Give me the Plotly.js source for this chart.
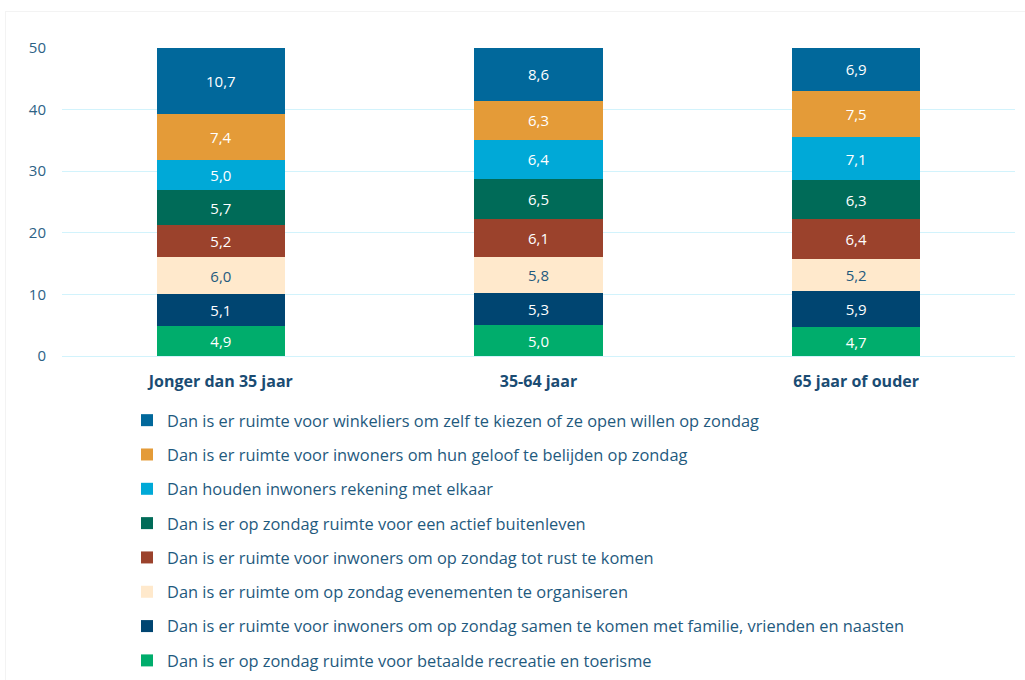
<!DOCTYPE html>
<html>
<head>
<meta charset="utf-8">
<script src="https://cdn.plot.ly/plotly-3.0.1.min.js"></script>
<style>
  html, body { margin: 0; padding: 0; background: #ffffff; }
  #wrap { position: relative; width: 1025px; height: 680px; }
  #frame { position: absolute; left: 5px; top: 11px; right: 0; bottom: 0; border-left: 1px solid #f3f3f3; border-top: 1px solid #f3f3f3; pointer-events: none; }
  #chart { width: 1025px; height: 680px; }
</style>
</head>
<body>
<div id="wrap">
  <div id="chart"></div>
  <div id="frame"></div>
</div>
<script>
const categories = ["Jonger dan 35 jaar", "35-64 jaar", "65 jaar of ouder"];

// Series listed from bottom of stack to top
const seriesNames = [
  "Dan is er op zondag ruimte voor betaalde recreatie en toerisme",
  "Dan is er ruimte voor inwoners om op zondag samen te komen met familie, vrienden en naasten",
  "Dan is er ruimte om op zondag evenementen te organiseren",
  "Dan is er ruimte voor inwoners om op zondag tot rust te komen",
  "Dan is er op zondag ruimte voor een actief buitenleven",
  "Dan houden inwoners rekening met elkaar",
  "Dan is er ruimte voor inwoners om hun geloof te belijden op zondag",
  "Dan is er ruimte voor winkeliers om zelf te kiezen of ze open willen op zondag"
];

const recreatie   = [4.9, 5.0, 4.7];
const familie     = [5.1, 5.3, 5.9];
const evenementen = [6.0, 5.8, 5.2];
const rust        = [5.2, 6.1, 6.4];
const buitenleven = [5.7, 6.5, 6.3];
const rekening    = [5.0, 6.4, 7.1];
const geloof      = [7.4, 6.3, 7.5];
const winkeliers  = [10.7, 8.6, 6.9];

const seriesValues = [recreatie, familie, evenementen, rust, buitenleven, rekening, geloof, winkeliers];
const seriesColors = ["#00ad6c", "#004571", "#ffe9cc", "#9b422c", "#006b58", "#00a9d7", "#e49b38", "#01689b"];
const textColors   = ["#ffffff", "#ffffff", "#1f5a7e", "#ffffff", "#ffffff", "#ffffff", "#ffffff", "#ffffff"];

const yTicks = [0, 10, 20, 30, 40, 50];

const FONT = "'Open Sans', Lato, sans-serif";

const traces = seriesNames.map((name, i) => ({
  type: "bar",
  name: name,
  x: categories,
  y: seriesValues[i],
  legendgroup: "g" + i,
  legendrank: 100 - i,
  marker: { color: seriesColors[i], line: { width: 0 } },
  texttemplate: "%{y:.1f}",
  textposition: "inside",
  insidetextanchor: "middle",
  textangle: 0,
  textfont: { family: FONT, size: 15, color: textColors[i] },
  hoverinfo: "skip"
}));

const layout = {
  width: 1025,
  height: 680,
  barmode: "stack",
  bargap: 0.597,
  separators: ",.",
  paper_bgcolor: "#ffffff",
  plot_bgcolor: "#ffffff",
  margin: { l: 62, r: 10, t: 48, b: 324, autoexpand: false },
  font: { family: FONT, size: 15, color: "#1f5a7e" },
  showlegend: true,
  legend: {
    orientation: "v",
    xref: "container",
    yref: "container",
    x: 127 / 1025,
    xanchor: "left",
    y: 1 - 403 / 680,
    yanchor: "top",
    traceorder: "grouped",
    tracegroupgap: 10,
    font: { family: FONT, size: 16.4, color: "#1f5a7e" },
    itemclick: false,
    itemdoubleclick: false,
    bgcolor: "rgba(0,0,0,0)"
  },
  xaxis: {
    type: "category",
    range: [-0.5, 2.5],
    showgrid: false,
    zeroline: false,
    showline: false,
    ticks: "",
    ticklabelstandoff: 14,
    tickfont: { family: FONT, size: 16, color: "#1a4c73", weight: "bold" }
  },
  yaxis: {
    range: [0, 50],
    tickvals: yTicks,
    ticktext: yTicks.map(String),
    showgrid: true,
    gridcolor: "#d2f3fc",
    gridwidth: 1,
    zeroline: true,
    zerolinecolor: "#d2f3fc",
    zerolinewidth: 1,
    showline: false,
    ticks: "",
    ticklabelstandoff: 15,
    tickfont: { family: FONT, size: 15, color: "#2d6285" }
  }
};

Plotly.newPlot("chart", traces, layout, { displayModeBar: false, staticPlot: true });
</script>
</body>
</html>
